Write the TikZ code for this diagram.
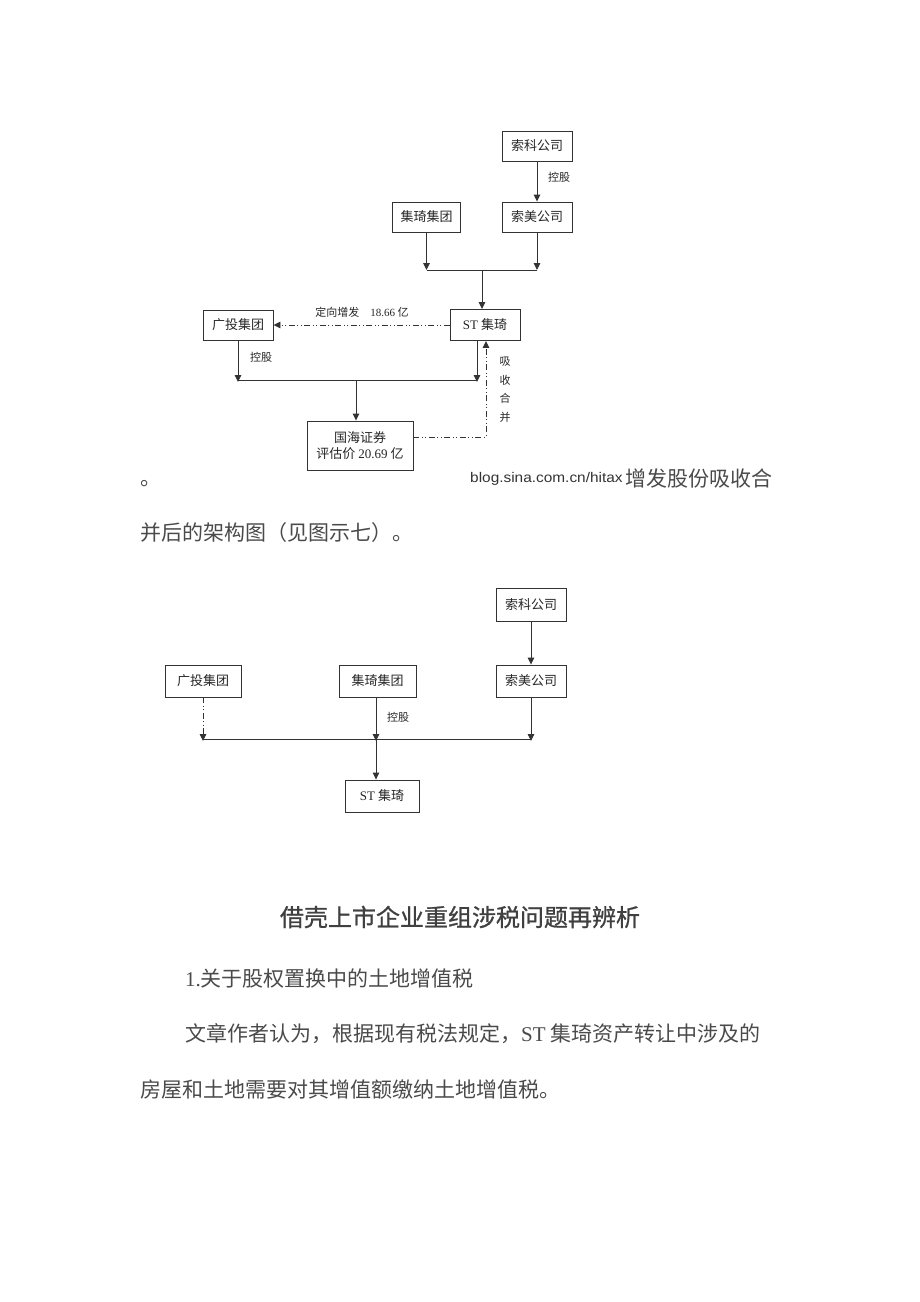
\documentclass[tikz,border=0pt]{standalone}
\usepackage{fontspec}
\setmainfont{Noto Sans CJK SC}
\newfontfamily\cjk{Noto Sans CJK SC}
\newfontfamily\cjkb{Noto Sans CJK SC}[FakeBold=1]
\newfontfamily\lserif{Liberation Serif}
\newfontfamily\lsans{Liberation Sans}
\usetikzlibrary{arrows.meta}
\definecolor{ln}{HTML}{333333}
\definecolor{txt}{HTML}{4A4A4A}
\begin{document}
\begin{tikzpicture}[x=1pt,y=-1pt,
  box/.style={draw=ln,line width=0.9pt,fill=white,inner sep=0pt,align=center,font=\cjk\fontsize{13}{15.5}\selectfont,text=black!85},
  con/.style={draw=ln,line width=0.9pt},
  arr/.style={con,-{Triangle[length=7pt,width=6.5pt]}},
  dd/.style={dash pattern=on 6pt off 2.5pt on 1pt off 2.5pt on 1pt off 2.5pt},
  lab/.style={font=\cjk\fontsize{11}{12}\selectfont,text=black!85,inner sep=0pt},
  body/.style={font=\cjk\fontsize{21}{24}\selectfont,text=txt,inner sep=0pt,anchor=west}]
\useasboundingbox (0,0) rectangle (920,1302);
% ---------- top diagram ----------
\node[box,minimum width=70,minimum height=30] (sk1) at (537,146) {索科公司};
\node[box,minimum width=70,minimum height=30] (sm1) at (537,217) {索美公司};
\node[box,minimum width=68,minimum height=30] (jq1) at (426.5,217) {集琦集团};
\node[box,minimum width=70,minimum height=31] (st1) at (485,325) {{\lserif ST} 集琦};
\node[box,minimum width=70,minimum height=30] (gt1) at (238,325) {广投集团};
\node[box,minimum width=106,minimum height=49] (gh1) at (360,445.5) {国海证券\\评估价 {\lserif 20.69} 亿};
\coordinate (j1) at (426.5,270);
\coordinate (j2) at (537,270);
\coordinate (j3) at (482,270);
\coordinate (k1) at (238,380);
\coordinate (k2) at (477,380);
\coordinate (k3) at (356,380);
\coordinate (m1) at (486,437);
\draw[arr] (sk1) -- (sm1);
\node[lab] (lk1) at (559,177) {控股};
\draw[arr] (jq1.south) -- (j1);
\draw[arr] (j2 |- sm1.south) -- (j2);
\draw[con] (j1) -- (j2);
\draw[arr] (j3) -- (j3 |- st1.north);
\draw[arr,dd] (st1.west) -- (gt1.east);
\node[lab] (ld) at (362,312) {定向增发\quad{\lserif 18.66} 亿};
\draw[arr] (gt1.south) -- ([yshift=-2pt]k1);
\draw[arr] (k2 |- st1.south) -- ([yshift=-2pt]k2);
\draw[con] (k1) -- (k2);
\node[lab] (lk2) at (261,357) {控股};
\draw[arr] (k3) -- (k3 |- gh1.north);
\draw[arr,dd] (gh1.east |- m1) -- (m1) -- (m1 |- st1.south);
\node[lab,align=center] (lx) at (505,389.5) {吸\\[6.5pt]收\\[6.5pt]合\\[6.5pt]并};
% ---------- text between ----------
\node[body] (t0) at (140,484) {。};
\node[font=\lsans\fontsize{14}{16}\selectfont,text=black!80,inner sep=0pt,anchor=west,xscale=1.1,transform shape] (wm) at (470,479) {blog.sina.com.cn/hitax};
\node[body] (t1) at (625,479) {增发股份吸收合};
\node[body] (t2) at (140,533) {并后的架构图（见图示七）。};
% ---------- bottom diagram ----------
\node[box,minimum width=70,minimum height=33] (sk2) at (531,604.5) {索科公司};
\node[box,minimum width=70,minimum height=32] (sm2) at (531,681) {索美公司};
\node[box,minimum width=77,minimum height=32] (jq2) at (377.5,681) {集琦集团};
\node[box,minimum width=76,minimum height=32] (gt2) at (203,681) {广投集团};
\node[box,minimum width=74,minimum height=32] (st2) at (382,796) {{\lserif ST} 集琦};
\coordinate (b1) at (203,739);
\coordinate (b2) at (376,739);
\coordinate (b3) at (531,739);
\draw[arr] (sk2) -- (sm2);
\draw[arr,dd] (gt2.south) -- ([yshift=-2pt]b1);
\draw[arr] (b2 |- jq2.south) -- ([yshift=-2pt]b2);
\draw[arr] (sm2.south) -- ([yshift=-2pt]b3);
\draw[con] (b1) -- (b3);
\draw[arr] (b2) -- (b2 |- st2.north);
\node[lab] (lk3) at (398,717) {控股};
% ---------- article text ----------
\node[font=\cjkb\fontsize{24}{28}\selectfont,text=black!75,inner sep=0pt] (title) at (460,917) {借壳上市企业重组涉税问题再辨析};
\node[body] (p1) at (185,979) {{\lserif 1.}关于股权置换中的土地增值税};
\node[body] (p2) at (185,1034) {文章作者认为，根据现有税法规定，{\lserif ST} 集琦资产转让中涉及的};
\node[body] (p3) at (140,1090) {房屋和土地需要对其增值额缴纳土地增值税。};
\end{tikzpicture}
\end{document}
